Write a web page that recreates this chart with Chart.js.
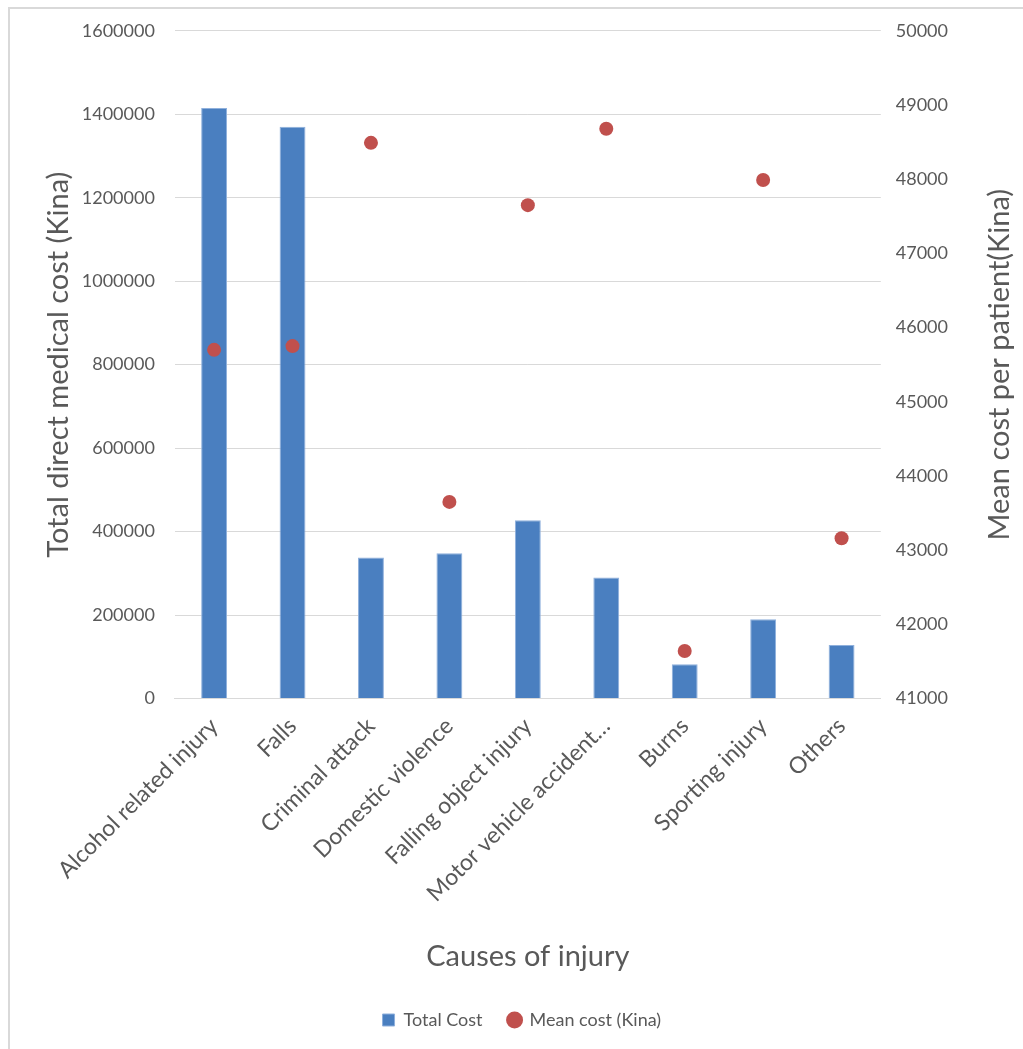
<!DOCTYPE html>
<html>
<head>
    <title>Direct medical cost by cause of injury</title>
    <script src="https://cdn.jsdelivr.net/npm/chart.js"></script>
    <style>
        body { margin: 0; background: #ffffff; }
        .frame {
            position: absolute; left: 8px; top: 7px; width: 1100px; height: 1100px;
            border-left: 2px solid #d9d9d9; border-top: 2px solid #d9d9d9;
        }
        .holder { position: absolute; left: 0; top: 0; width: 1023px; height: 1049px; }
    </style>
</head>
<body>
    <div class="frame"></div>
    <div class="holder">
        <canvas id="myChart" width="1023" height="1049"></canvas>
    </div>

    <script>
      const causes = ["Alcohol related injury", "Falls", "Criminal attack", "Domestic violence",
        "Falling object injury", "Motor vehicle accident\u2026", "Burns", "Sporting injury", "Others"];
      const totalCost = [1415000, 1370000, 338000, 348000, 427000, 290000, 82000, 190000, 128000];
      const meanCost = [45700, 45750, 48490, 43650, 47650, 48680, 41640, 47990, 43160];
      const leftTicks = [0, 200000, 400000, 600000, 800000, 1000000, 1200000, 1400000, 1600000];
      const rightTicks = [41000, 42000, 43000, 44000, 45000, 46000, 47000, 48000, 49000, 50000];

      const grey = "#595959";
      const font = "Lato";

      // right axis title reads bottom-to-top, drawn by hand
      const rightTitle = {
        id: "rightTitle",
        afterLayout(chart) {
          // legend sits centred under the plot, not the whole canvas
          const a = chart.chartArea;
          const shift = (a.left + a.right) / 2 - (chart.legend.left + chart.legend.right) / 2 - 6;
          chart.legend.left += shift;
          chart.legend.right += shift;
        },
        afterDraw(chart) {
          const s = chart.scales.y1;
          const c = chart.ctx;
          c.save();
          c.translate(1000, (s.top + s.bottom) / 2);
          c.rotate(-Math.PI / 2);
          c.fillStyle = grey;
          c.font = "29px " + font;
          c.textAlign = "center";
          c.textBaseline = "middle";
          c.fillText("Mean cost per patient(Kina)", 0, 0);
          c.restore();
        }
      };

      const ctx = document.getElementById("myChart");
      const mychart = new Chart(ctx, {
        data: {
          labels: causes,
          datasets: [
            {
              type: "line",
              label: "Mean cost (Kina)",
              data: meanCost,
              yAxisID: "y1",
              showLine: false,
              pointRadius: 7,
              pointHoverRadius: 7,
              pointBackgroundColor: "#c0504d",
              pointBorderWidth: 0,
              backgroundColor: "#c0504d",
              borderColor: "#c0504d",
              pointStyle: "circle",
              order: 0
            },
            {
              type: "bar",
              label: "Total Cost",
              data: totalCost,
              yAxisID: "y",
              backgroundColor: "#4a7fc0",
              borderColor: "#8fb0dc",
              borderWidth: 1,
              barPercentage: 0.33,
              categoryPercentage: 1,
              pointStyle: "rect",
              order: 1
            }
          ]
        },
        options: {
          responsive: false,
          animation: false,
          layout: { padding: { left: 0, right: 60, top: 24, bottom: 10 } },
          plugins: {
            legend: {
              position: "bottom",
              reverse: true,
              labels: {
                usePointStyle: true,
                boxWidth: 12,
                boxHeight: 12,
                padding: 26,
                color: grey,
                font: { family: font, size: 18 }
              }
            },
            tooltip: { enabled: false }
          },
          scales: {
            x: {
              grid: { display: false },
              border: { color: "#d9d9d9" },
              afterFit: (axis) => { axis.paddingLeft = 0; },
              ticks: {
                color: grey,
                font: { family: font, size: 23 },
                minRotation: 45,
                maxRotation: 45,
                autoSkip: false,
                padding: 6
              },
              title: {
                display: true,
                text: "Causes of injury",
                color: grey,
                font: { family: font, size: 29 },
                padding: { top: 26, bottom: 11 }
              }
            },
            y: {
              position: "left",
              min: 0,
              max: 1600000,
              afterBuildTicks: (axis) => { axis.ticks = leftTicks.map(v => ({ value: v })); },
              afterFit: (axis) => { axis.width -= 20; },
              grid: { color: "#d9d9d9", drawTicks: false },
              border: { display: false },
              ticks: {
                color: grey,
                font: { family: font, size: 18 },
                padding: 20,
                callback: (v) => String(v)
              },
              title: {
                display: true,
                text: "Total direct medical cost (Kina)",
                color: grey,
                font: { family: font, size: 29 },
                padding: { top: 41, bottom: 6 }
              }
            },
            y1: {
              position: "right",
              min: 41000,
              max: 50000,
              afterBuildTicks: (axis) => { axis.ticks = rightTicks.map(v => ({ value: v })); },
              grid: { display: false, drawTicks: false },
              border: { display: false },
              ticks: {
                color: grey,
                font: { family: font, size: 18 },
                padding: 15,
                callback: (v) => String(v)
              }
            }
          }
        },
        plugins: [rightTitle]
      });
    </script>
</body>
</html>
